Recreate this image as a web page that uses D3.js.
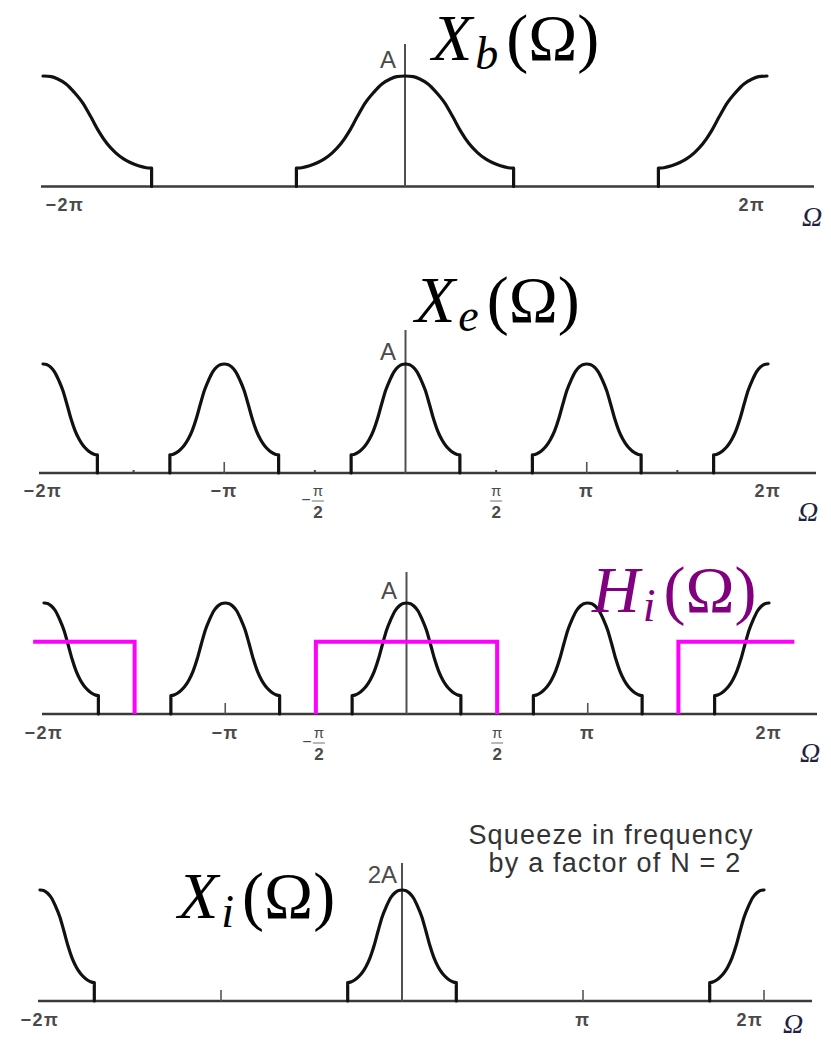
<!DOCTYPE html>
<html>
<head>
<meta charset="utf-8">
<script src="https://cdn.jsdelivr.net/npm/d3@7/dist/d3.min.js"></script>
<style>
  html, body { margin: 0; padding: 0; background: #fff; }
  svg { display: block; }
  .tick-label { font-family: "Liberation Sans", Arial, sans-serif; fill: #4a4a4a; }
  .title { font-family: "Liberation Serif", "Times New Roman", serif; }
</style>
</head>
<body>
<svg id="chart" width="831" height="1041"></svg>
<script>
// One spectral band, traced from its peak (u = 0) out to its band edge (u = 1),
// as a fraction of the peak height. Mirrored to give the full symmetric band.
const pulseU = [0, 0.076, 0.136, 0.212, 0.288, 0.364, 0.439, 0.515, 0.591, 0.667, 0.742, 0.803, 0.879, 0.95, 1.0];
const pulseV = [1.0, 0.994, 0.973, 0.928, 0.852, 0.759, 0.633, 0.497, 0.386, 0.307, 0.25, 0.217, 0.187, 0.17, 0.166];

// Band centres (multiples of pi), half-widths and peak amplitudes (in units of A)
const centersXb = [-2, 0, 2];
const centersXe = [-2, -1, 0, 1, 2];
const centersXi = [-2, 0, 2];
const halfWidthXb = 0.6;
const halfWidthXe = 0.3;
const halfWidthXi = 0.3;
const peakXb = 1;
const peakXe = 1;
const peakXi = 2;

// Ideal interpolation low-pass filter H_i (passbands in multiples of pi)
const filterBands = [[-2.06, -1.5], [-0.5, 0.5], [1.5, 2.14]];
const filterGain = 0.65;

// Tick marks and tick labels (positions in multiples of pi)
const ticksXb = [];
const ticksXe = [-1, 1];
const ticksXi = [-1, 1, 2];
const minorDotsXe = [-1.5, -0.5, 0.5, 1.5];
const labelsXb = [{ v: -2, t: "−2π" }, { v: 2, t: "2π" }];
const labelsXe = [{ v: -2, t: "−2π" }, { v: -1, t: "−π" }, { v: -0.5, t: "−π/2" }, { v: 0.5, t: "π/2" }, { v: 1, t: "π" }, { v: 2, t: "2π" }];
const labelsXi = [{ v: -2, t: "−2π" }, { v: 1, t: "π" }, { v: 2, t: "2π" }];

const svg = d3.select("#chart");

// Panel geometry
const panels = [
  { centers: centersXb, hw: halfWidthXb, peak: peakXb, ticks: ticksXb, dots: [], labels: labelsXb,
    xr: [43, 767], axisY: 186.5, peakY: 76, topY: 44, axisX: [41, 814], labelY: 211, labelDx: { "-2": 22, "2": -15 },
    amp: "A", ampX: 396, ampY: 68, omega: [802, 226] },
  { centers: centersXe, hw: halfWidthXe, peak: peakXe, ticks: ticksXe, dots: minorDotsXe, labels: labelsXe,
    xr: [43, 768], axisY: 473, peakY: 364, topY: 330, axisX: [39, 816], labelY: 497, labelDx: {},
    amp: "A", ampX: 396, ampY: 360, omega: [798, 521] },
  { centers: centersXe, hw: halfWidthXe, peak: peakXe, ticks: ticksXe, dots: [], labels: labelsXe,
    xr: [44, 769], axisY: 714, peakY: 603, topY: 572, axisX: [42, 817], labelY: 739, labelDx: {},
    amp: "A", ampX: 397, ampY: 599, omega: [800, 762], filter: true },
  { centers: centersXi, hw: halfWidthXi, peak: peakXi, ticks: ticksXi, dots: [], labels: labelsXi,
    xr: [40, 764], axisY: 1001, peakY: 890, topY: 863, axisX: [38, 812], labelY: 1026, labelDx: { "2": -14 },
    amp: "2A", ampX: 397, ampY: 883, omega: [783, 1033] }
];

const smooth = d3.line().curve(d3.curveMonotoneX);
const linear = d3.line();

panels.forEach(p => {
  const g = svg.append("g");
  const x = d3.scaleLinear().domain([-2, 2]).range(p.xr);
  const y = d3.scaleLinear().domain([0, p.peak]).range([p.axisY, p.peakY]);
  const inside = v => v >= -2 - 1e-9 && v <= 2 + 1e-9;

  // horizontal frequency axis
  g.append("line")
    .attr("x1", p.axisX[0]).attr("x2", p.axisX[1])
    .attr("y1", p.axisY).attr("y2", p.axisY)
    .attr("stroke", "#3a3a3a").attr("stroke-width", 2.6);

  // vertical magnitude axis
  g.append("line")
    .attr("x1", x(0)).attr("x2", x(0))
    .attr("y1", p.axisY).attr("y2", p.topY)
    .attr("stroke", "#505050").attr("stroke-width", 2);

  // small ticks
  g.selectAll(".tk").data(p.ticks).join("line")
    .attr("x1", d => x(d)).attr("x2", d => x(d))
    .attr("y1", p.axisY).attr("y2", p.axisY - 11)
    .attr("stroke", "#555").attr("stroke-width", 1.6);
  g.selectAll(".dot").data(p.dots).join("line")
    .attr("x1", d => x(d)).attr("x2", d => x(d))
    .attr("y1", p.axisY).attr("y2", p.axisY - 3)
    .attr("stroke", "#444").attr("stroke-width", 2);

  // spectral bands
  p.centers.forEach(c => {
    const pts = [];
    for (let i = pulseU.length - 1; i >= 0; i--) pts.push([c - pulseU[i] * p.hw, pulseV[i] * p.peak]);
    for (let i = 1; i < pulseU.length; i++) pts.push([c + pulseU[i] * p.hw, pulseV[i] * p.peak]);
    const vis = pts.filter(d => inside(d[0])).map(d => [x(d[0]), y(d[1])]);
    const edge = pulseV[pulseV.length - 1] * p.peak;
    let d = smooth(vis);
    [c - p.hw, c + p.hw].forEach(e => {
      if (inside(e)) d += linear([[x(e), y(edge)], [x(e), y(0)]]);
    });
    g.append("path").attr("d", d)
      .attr("fill", "none").attr("stroke", "#111").attr("stroke-width", 3.2)
      .attr("stroke-linecap", "round").attr("stroke-linejoin", "round");
  });

  // interpolation filter
  if (p.filter) {
    filterBands.forEach(([a, b]) => {
      const pts = [];
      if (a > -2) pts.push([a, 0]);
      pts.push([a, filterGain], [b, filterGain]);
      if (b < 2) pts.push([b, 0]);
      g.append("path").attr("d", linear(pts.map(d => [x(d[0]), y(d[1] * p.peak)])))
        .attr("fill", "none").attr("stroke", "#ff00ff").attr("stroke-width", 4);
    });
  }

  // tick labels
  p.labels.forEach(l => {
    const cx = x(l.v) + (p.labelDx[String(l.v)] || 0);
    if (l.t.includes("/")) {
      const neg = l.t.startsWith("−");
      const fx = cx + (neg ? 3 : 0);
      if (neg) g.append("text").attr("class", "tick-label").attr("x", fx - 12).attr("y", p.labelY + 8)
        .attr("text-anchor", "middle").attr("font-size", 16).text("−");
      g.append("text").attr("class", "tick-label").attr("x", fx).attr("y", p.labelY - 1)
        .attr("text-anchor", "middle").attr("font-size", 15).text("π");
      g.append("line").attr("x1", fx - 6).attr("x2", fx + 6)
        .attr("y1", p.labelY + 4).attr("y2", p.labelY + 4)
        .attr("stroke", "#888").attr("stroke-width", 1.2);
      g.append("text").attr("class", "tick-label").attr("x", fx).attr("y", p.labelY + 21)
        .attr("text-anchor", "middle").attr("font-size", 17).attr("font-weight", "bold").text("2");
    } else {
      g.append("text").attr("class", "tick-label")
        .attr("x", cx).attr("y", p.labelY)
        .attr("text-anchor", "middle").attr("font-size", 18).attr("font-weight", "bold")
        .attr("letter-spacing", 1.5).text(l.t);
    }
  });

  // amplitude label
  g.append("text").attr("class", "tick-label")
    .attr("x", p.ampX).attr("y", p.ampY).attr("text-anchor", "end")
    .attr("font-size", 24).text(p.amp);

  // frequency variable
  g.append("text").attr("class", "title")
    .attr("x", p.omega[0]).attr("y", p.omega[1])
    .attr("font-size", 28).attr("font-style", "italic").attr("fill", "#1e2440")
    .text("Ω");
});

// spectrum names
function title(xp, yp, main, sub, color) {
  const t = svg.append("text").attr("class", "title")
    .attr("x", xp).attr("y", yp).attr("font-size", 66).attr("fill", color);
  t.append("tspan").attr("font-style", "italic").text(main);
  t.append("tspan").attr("font-style", "italic").attr("font-size", 46).attr("dy", 9).attr("dx", 3).text(sub);
  t.append("tspan").attr("dy", -9).attr("dx", 8).text("(Ω)");
}
title(432, 60, "X", "b", "#000");
title(415, 322, "X", "e", "#000");
title(592, 612, "H", "i", "#800080");
title(178, 918, "X", "i", "#000");

// annotation
const note = svg.append("text")
  .attr("font-family", "Liberation Sans, Arial, sans-serif")
  .attr("font-size", 27).attr("fill", "#333").attr("text-anchor", "middle")
  .attr("letter-spacing", 1.2);
note.append("tspan").attr("x", 611).attr("y", 844).text("Squeeze in frequency");
note.append("tspan").attr("x", 615).attr("y", 872).text("by a factor of N = 2");
</script>
</body>
</html>
